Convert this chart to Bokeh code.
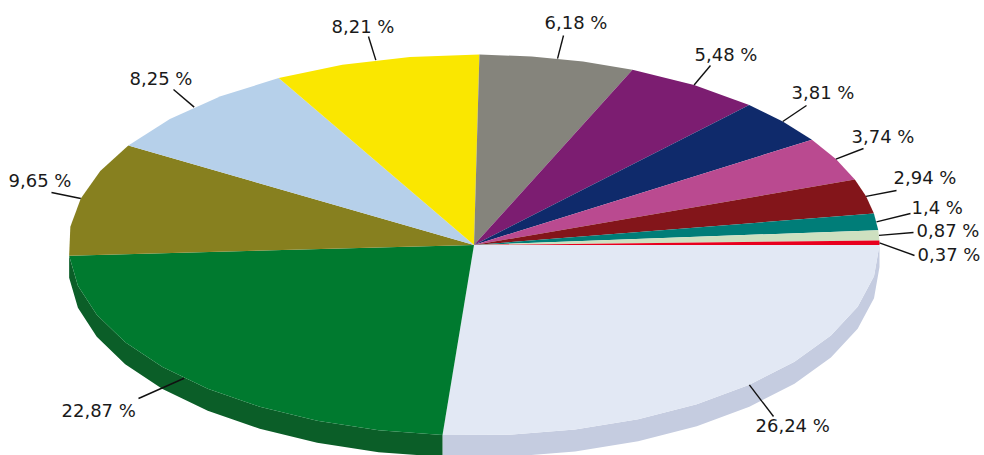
from math import ceil, cos, sin, radians
from bokeh.embed import file_html
from bokeh.models import Range1d
from bokeh.plotting import figure
from bokeh.resources import INLINE

values = [26.24, 22.87, 9.65, 8.25, 8.21, 6.18, 5.48, 3.81, 3.74, 2.94, 1.4, 0.87, 0.37]
labels = ["26,24 %", "22,87 %", "9,65 %", "8,25 %", "8,21 %", "6,18 %", "5,48 %",
          "3,81 %", "3,74 %", "2,94 %", "1,4 %", "0,87 %", "0,37 %"]
colors = ["#E2E8F4", "#007A2F", "#87801F", "#B6D0EA", "#FAE700", "#85847C", "#7C1D71",
          "#0F2A6B", "#BA4A90", "#83151A", "#007D78", "#CEE0C0", "#E8001E"]
side_colors = ["#C5CCE0", "#0B5E28"]

# layout (pixels)
CX, CY, RX, RY, DEPTH = 473.5, 244.5, 405.5, 190.5, 22
elbows = [(773, 416), (138, 398), (51, 192), (173, 89), (368, 36), (563, 35), (710, 65),
          (806, 105), (863, 148), (896, 190), (910, 213), (913, 232), (914, 255)]
label_xy = [(755, 425), (61, 410), (8, 180), (129, 78), (331, 26), (544, 22), (694, 54),
            (791, 92), (851, 136), (893, 177), (911, 207), (916, 230), (917, 254)]

total = sum(values)

def pt(a, dy=0):
    return CX + RX * cos(radians(a)), CY + RY * sin(radians(a)) + dy

p = figure(width=984, height=455, output_backend="svg", toolbar_location=None,
           x_range=Range1d(0, 984), y_range=Range1d(455, 0), min_border=0,
           margin=(0, 0, 0, 0))
p.axis.visible = False
p.grid.visible = False
p.outline_line_color = None

start = 0.0
for i, v in enumerate(values):
    span = v / total * 360
    n = ceil(span / 10)
    rim = [pt(start + span * k / n) for k in range(n + 1)]
    if i < len(side_colors):
        low = [pt(start + span * k / n, DEPTH) for k in range(n + 1)]
        poly = rim + low[::-1]
        p.patch([q[0] for q in poly], [q[1] for q in poly], fill_color=side_colors[i], line_color=None)
    start += span

start = 0.0
for i, v in enumerate(values):
    span = v / total * 360
    n = ceil(span / 10)
    rim = [pt(start + span * k / n) for k in range(n + 1)]
    poly = [(CX, CY)] + rim
    p.patch([q[0] for q in poly], [q[1] for q in poly], fill_color=colors[i], line_color=None)
    start += span

start = 0.0
for i, v in enumerate(values):
    span = v / total * 360
    ax, ay = pt(start + span / 2)
    ex, ey = elbows[i]
    p.line([ax, ex], [ay, ey], line_color="#111111", line_width=1.4)
    lx, ly = label_xy[i]
    p.text([lx], [ly], text=[labels[i]], text_font_size="18px", text_color="#1a1a1a",
           text_align="left", text_baseline="middle", text_font={"value": "DejaVu Sans"})
    start += span

open("out.html", "w").write(file_html(p, INLINE))
